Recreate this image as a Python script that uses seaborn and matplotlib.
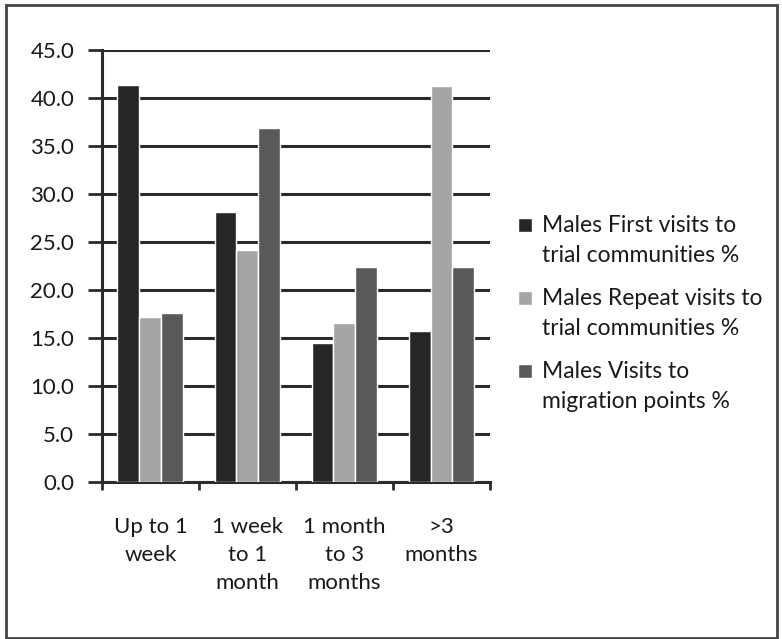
import matplotlib
matplotlib.use("Agg")
import matplotlib.pyplot as plt
import pandas as pd
import seaborn as sns
from matplotlib.legend_handler import HandlerPatch
from matplotlib.patches import Rectangle

categories = ["Up to 1\nweek", "1 week\nto 1\nmonth", "1 month\nto 3\nmonths", ">3\nmonths"]
series = [
    "Males First visits to\ntrial communities %",
    "Males Repeat visits to\ntrial communities %",
    "Males Visits to\nmigration points %",
]
first_visits = [41.4, 28.1, 14.5, 15.7]
repeat_visits = [17.2, 24.2, 16.6, 41.2]
migration_visits = [17.6, 36.9, 22.4, 22.4]
colors = ["#262626", "#a5a5a5", "#595959"]

rows = []
for name, vals in zip(series, [first_visits, repeat_visits, migration_visits]):
    for cat, v in zip(categories, vals):
        rows.append({"category": cat, "series": name, "value": v})
df = pd.DataFrame(rows)

sns.set_style("white")
plt.rcParams["font.family"] = ["Lato", "DejaVu Sans"]
FS = 16


def top_aligned_square(legend, orig_handle, xdescent, ydescent, width, height, fontsize):
    # put the legend square beside the first line of a two-line label
    return Rectangle((-xdescent, -ydescent + 11.5), width, height)


fig = plt.figure(figsize=(7.82, 6.39), dpi=100)
ax = fig.add_axes([0.1304, 0.2457, 0.4962, 0.6761])

sns.barplot(data=df, x="category", y="value", hue="series", palette=colors,
            width=0.68, saturation=1, ax=ax, zorder=3)

ax.set_ylim(0, 45)
ax.set_xlim(-0.5, 3.5)
ax.set_yticks([i * 5 for i in range(10)])
ax.set_yticklabels([f"{i * 5:.1f}" for i in range(10)], fontsize=FS, color="#1a1a1a")
ax.yaxis.grid(True, color="#2b2b2b", linewidth=2.2, zorder=0)
ax.set_axisbelow(True)
ax.tick_params(axis="y", length=10, width=2, color="#2b2b2b", pad=10, left=True)

ax.set_xticks(range(len(categories)))
ax.set_xticklabels(categories, fontsize=FS, color="#1a1a1a", linespacing=1.5, va="top")
ax.tick_params(axis="x", length=0, pad=25)
ax.set_xticks([i - 0.5 for i in range(len(categories) + 1)], minor=True)
ax.tick_params(axis="x", which="minor", length=6, width=2, color="#2b2b2b", bottom=True)

for side in ["top", "right"]:
    ax.spines[side].set_visible(False)
for side in ["left", "bottom"]:
    ax.spines[side].set_color("#2b2b2b")
    ax.spines[side].set_linewidth(2.2)

ax.set_xlabel("")
ax.set_ylabel("")

handles, labels = ax.get_legend_handles_labels()
leg = ax.legend(handles, labels, loc="center left", bbox_to_anchor=(1.02, 0.39), frameon=False,
                fontsize=16.5, handlelength=0.6, handleheight=0.6, handletextpad=0.45,
                labelspacing=0.95,
                handler_map={h: HandlerPatch(patch_func=top_aligned_square) for h in handles})
for t in leg.get_texts():
    t.set_linespacing(1.55)
    t.set_color("#1a1a1a")

fig.patches.append(Rectangle((0.008, 0.002), 0.985, 0.99, transform=fig.transFigure,
                             fill=False, edgecolor="#444444", linewidth=2))

fig.savefig("out.png", dpi=100, facecolor="white")
